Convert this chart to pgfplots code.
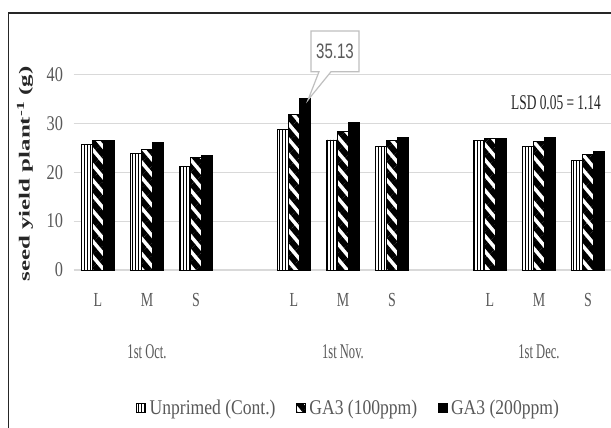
\documentclass[border=0pt]{standalone}
\usepackage{graphicx}
\usepackage{pgfplots}
\pgfplotsset{compat=1.18}
\usetikzlibrary{patterns.meta}
\usepackage{fontspec}
\setmainfont{Liberation Serif}[FakeStretch=0.84]
\newfontfamily\numfont{Liberation Serif}[FakeStretch=0.78]
\newfontfamily\letterfont{Liberation Serif}[FakeStretch=0.7]
\newfontfamily\groupfont{Liberation Serif}[FakeStretch=0.6]
\newfontfamily\lsdfont{Liberation Serif}[FakeStretch=0.64]
\newfontfamily\titlefont{Liberation Serif}
\newfontfamily\calloutfont{Liberation Sans}[FakeStretch=0.72]
\definecolor{txt}{HTML}{595959}
\definecolor{gridc}{HTML}{D9D9D9}
\definecolor{callc}{HTML}{BFBFBF}

\begin{document}
\begin{tikzpicture}
\useasboundingbox (0,0) rectangle (611bp,428bp);
\fill[white] (0,0) rectangle (611bp,428bp);
% chart frame
\draw[line width=1.3bp, black!85] (8.5bp,-5bp) -- (8.5bp,415bp) -- (620bp,415bp);
\begin{axis}[
  at={(73.5bp,158bp)}, anchor=south west,
  scale only axis, width=539bp, height=195.5bp,
  xmin=-0.5, xmax=10.5, ymin=0, ymax=40,
  clip=false,
  ybar=0pt, bar width=11bp,
  axis line style={draw=none},
  tick style={draw=none},
  ymajorgrids, grid style={gridc, line width=1.2bp},
  ytick={0,10,20,30,40},
  xtick={0,1,2,4,5,6,8,9,10},
  xticklabels={L,M,S,L,M,S,L,M,S},
  /pgf/number format/assume math mode=true,
  yticklabel style={font=\numfont\fontsize{21}{24}\selectfont, text=txt, xshift=-7bp},
  xticklabel style={font=\letterfont\fontsize{20}{23}\selectfont, text=txt, yshift=-16bp},
  legend image code/.code={\draw[#1, line width=0.8bp] (0bp,-4.5bp) rectangle (9bp,4.5bp);},
  legend style={at={(0.51,-0.706)}, anchor=center, draw=none, fill=none,
    font=\fontsize{21}{24}\selectfont, text=txt,
    nodes={inner sep=1.5bp},
    /tikz/every odd column/.append style={column sep=2bp},
    /tikz/every even column/.append style={column sep=19bp}},
  legend columns=3,
  legend cell align=left,
]
% Unprimed (Cont.)
\addplot[draw=black, line width=0.9bp, preaction={fill=white},
  pattern={Lines[angle=90,distance=3bp,line width=0.9bp]}, pattern color=black]
  coordinates {(0,25.6) (1,23.9) (2,21.1) (4,28.8) (5,26.6) (6,25.2) (8,26.5) (9,25.2) (10,22.5)};
% GA3 (100ppm)
\addplot[draw=black, line width=0.9bp, preaction={fill=white},
  pattern={Lines[angle=-50,distance=9.8bp,line width=6bp]}, pattern color=black]
  coordinates {(0,26.5) (1,24.7) (2,23.0) (4,31.9) (5,28.4) (6,26.5) (8,27.0) (9,26.2) (10,23.7)};
% GA3 (200ppm)
\addplot[draw=black, line width=0.9bp, fill=black]
  coordinates {(0,26.5) (1,26.1) (2,23.4) (4,35.13) (5,30.1) (6,27.1) (8,27.0) (9,27.1) (10,24.3)};
\legend{Unprimed (Cont.), GA3 (100ppm)\hspace{8bp}, GA3 (200ppm)}

% sowing-date group labels
\node[font=\groupfont\fontsize{21}{24}\selectfont, text=txt] at ([yshift=-82bp]axis cs:1,0) {1st Oct.};
\node[font=\groupfont\fontsize{21}{24}\selectfont, text=txt] at ([yshift=-82bp]axis cs:5,0) {1st Nov.};
\node[font=\groupfont\fontsize{21}{24}\selectfont, text=txt] at ([yshift=-82bp]axis cs:9,0) {1st Dec.};

% callout for the highest bar
\draw[callc, line width=1.2bp, fill=white]
  ([shift={(17bp,26.6bp)}]axis cs:4,35.13) --
  ([shift={(25bp,26.6bp)}]axis cs:4,35.13) --
  ([shift={(14bp,-1.7bp)}]axis cs:4,35.13) --
  ([shift={(37bp,26.6bp)}]axis cs:4,35.13) --
  ([shift={(65bp,26.6bp)}]axis cs:4,35.13) --
  ([shift={(65bp,67.3bp)}]axis cs:4,35.13) --
  ([shift={(17bp,67.3bp)}]axis cs:4,35.13) -- cycle;
\node[font=\calloutfont\fontsize{21}{24}\selectfont, text=txt] at ([shift={(41bp,47bp)}]axis cs:4,35.13) {35.13};
\end{axis}
\node[font=\lsdfont\fontsize{21}{24}\selectfont, text=black!85] at (556bp,325.5bp) {LSD 0.05 = 1.14};
\node[rotate=90, font=\titlefont\bfseries\fontsize{25}{28}\selectfont, text=black!85] at (25bp,254bp)
  {\scalebox{1}[0.62]{seed yield plant\textsuperscript{-1} (g)}};
\end{tikzpicture}
\end{document}
